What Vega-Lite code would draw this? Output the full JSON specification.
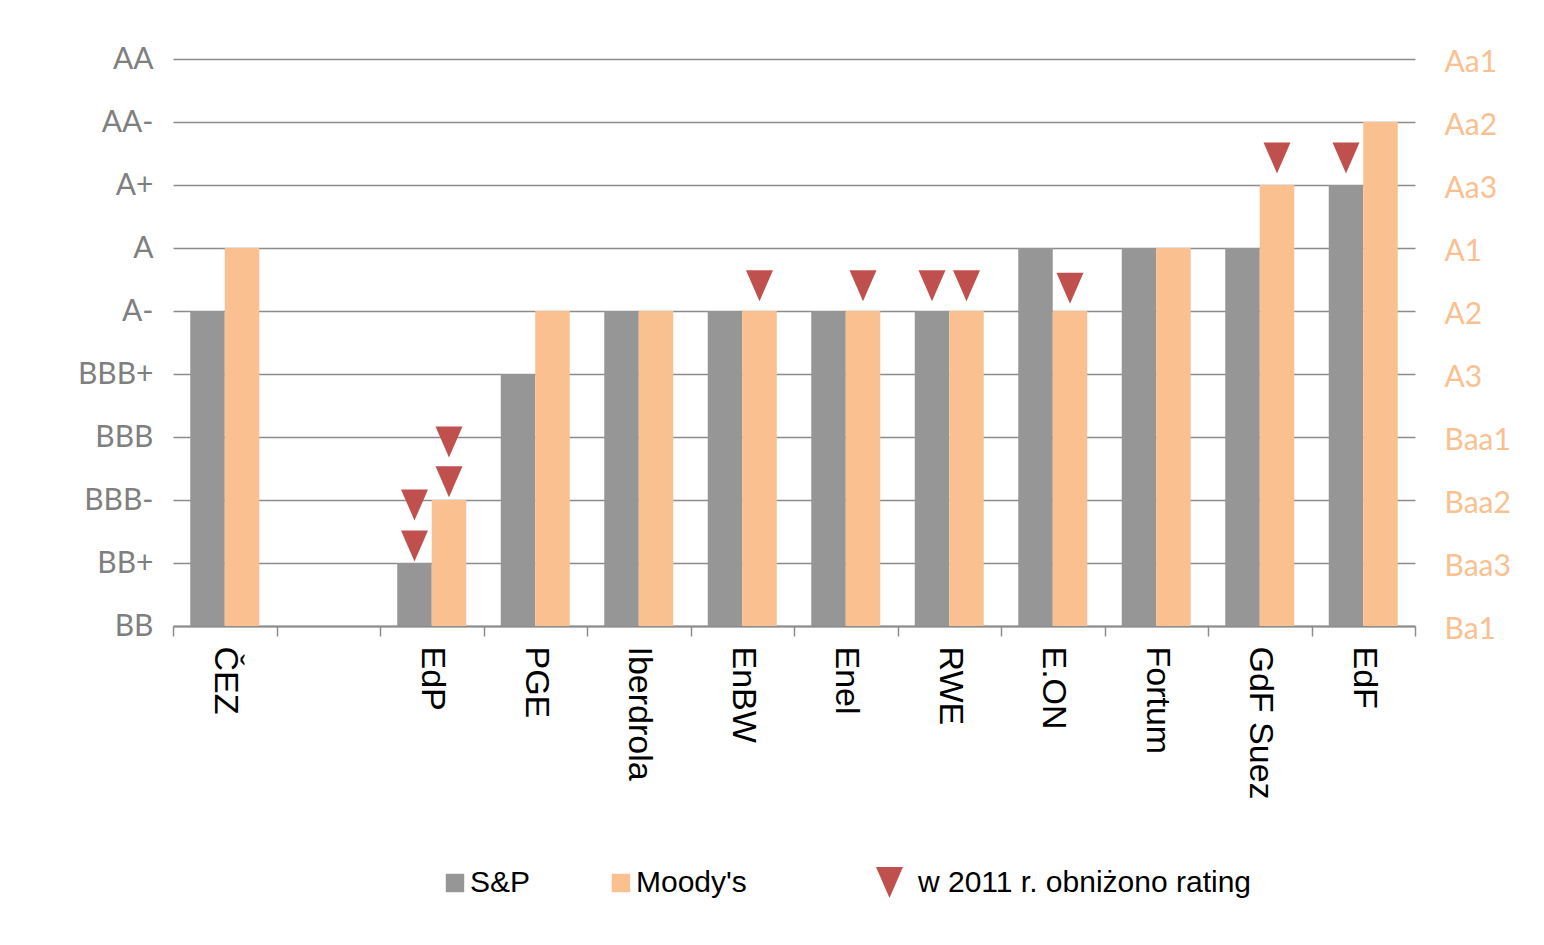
{
  "$schema": "https://vega.github.io/schema/vega-lite/v6.json",
  "width": 1242,
  "height": 567,
  "autosize": {"type": "none"},
  "padding": {"left": 173, "top": 59, "right": 129, "bottom": 319},
  "background": "white",
  "config": {"view": {"stroke": null}},
  "datasets": {
    "bars": [
      {"company": "ČEZ", "series": "S&P", "value": 5},
      {"company": "ČEZ", "series": "Moody's", "value": 6},
      {"company": "EdP", "series": "S&P", "value": 1},
      {"company": "EdP", "series": "Moody's", "value": 2},
      {"company": "PGE", "series": "S&P", "value": 4},
      {"company": "PGE", "series": "Moody's", "value": 5},
      {"company": "Iberdrola", "series": "S&P", "value": 5},
      {"company": "Iberdrola", "series": "Moody's", "value": 5},
      {"company": "EnBW", "series": "S&P", "value": 5},
      {"company": "EnBW", "series": "Moody's", "value": 5},
      {"company": "Enel", "series": "S&P", "value": 5},
      {"company": "Enel", "series": "Moody's", "value": 5},
      {"company": "RWE", "series": "S&P", "value": 5},
      {"company": "RWE", "series": "Moody's", "value": 5},
      {"company": "E.ON", "series": "S&P", "value": 6},
      {"company": "E.ON", "series": "Moody's", "value": 5},
      {"company": "Fortum", "series": "S&P", "value": 6},
      {"company": "Fortum", "series": "Moody's", "value": 6},
      {"company": "GdF Suez", "series": "S&P", "value": 6},
      {"company": "GdF Suez", "series": "Moody's", "value": 7},
      {"company": "EdF", "series": "S&P", "value": 7},
      {"company": "EdF", "series": "Moody's", "value": 8}
    ],
    "downgrades": [
      {"company": "EdP", "series": "S&P", "pos": 1.92, "kind": "w 2011 r. obniżono rating"},
      {"company": "EdP", "series": "S&P", "pos": 1.27, "kind": "w 2011 r. obniżono rating"},
      {"company": "EdP", "series": "Moody's", "pos": 2.92, "kind": "w 2011 r. obniżono rating"},
      {"company": "EdP", "series": "Moody's", "pos": 2.29, "kind": "w 2011 r. obniżono rating"},
      {"company": "EnBW", "series": "Moody's", "pos": 5.4, "kind": "w 2011 r. obniżono rating"},
      {"company": "Enel", "series": "Moody's", "pos": 5.4, "kind": "w 2011 r. obniżono rating"},
      {"company": "RWE", "series": "S&P", "pos": 5.4, "kind": "w 2011 r. obniżono rating"},
      {"company": "RWE", "series": "Moody's", "pos": 5.4, "kind": "w 2011 r. obniżono rating"},
      {"company": "E.ON", "series": "Moody's", "pos": 5.36, "kind": "w 2011 r. obniżono rating"},
      {"company": "GdF Suez", "series": "Moody's", "pos": 7.43, "kind": "w 2011 r. obniżono rating"},
      {"company": "EdF", "series": "S&P", "pos": 7.43, "kind": "w 2011 r. obniżono rating"}
    ]
  },
  "layer": [
    {
      "data": {"name": "bars"},
      "mark": {"type": "bar"},
      "encoding": {
        "x": {
          "field": "company",
          "type": "nominal",
          "scale": {
            "domain": ["ČEZ", " ", "EdP", "PGE", "Iberdrola", "EnBW", "Enel", "RWE", "E.ON", "Fortum", "GdF Suez", "EdF"],
            "paddingInner": 0,
            "paddingOuter": 0
          },
          "axis": {
            "title": null,
            "tickBand": "extent",
            "labelAngle": 90,
            "labelAlign": "left",
            "labelBaseline": "middle",
            "labelFont": "Liberation Sans",
            "labelFontSize": 34,
            "labelColor": "#000000",
            "labelPadding": 10,
            "labelLimit": 400,
            "tickSize": 10,
            "tickColor": "#8C8C8C",
            "tickWidth": 1.5,
            "domainColor": "#8C8C8C",
            "domainWidth": 2,
            "grid": false
          }
        },
        "xOffset": {
          "field": "series",
          "type": "nominal",
          "scale": {"domain": ["S&P", "Moody's"], "paddingInner": 0, "paddingOuter": 0.5}
        },
        "y": {
          "field": "value",
          "type": "quantitative",
          "scale": {"domain": [0, 9], "nice": false},
          "axis": {
            "orient": "left",
            "title": null,
            "values": [0, 1, 2, 3, 4, 5, 6, 7, 8, 9],
            "labelExpr": "['BB','BB+','BBB-','BBB','BBB+','A-','A','A+','AA-','AA'][datum.value]",
            "domain": false,
            "ticks": false,
            "grid": true,
            "gridColor": "#8C8C8C",
            "gridWidth": 1.5,
            "labelFont": "Lato",
            "labelFontSize": 30,
            "labelColor": "#7F7F7F",
            "labelPadding": 20,
            "labelFlush": false,
            "labelOverlap": false,
            "labelBound": false
          }
        },
        "color": {
          "field": "series",
          "type": "nominal",
          "scale": {"domain": ["S&P", "Moody's"], "range": ["#969696", "#FAC090"]},
          "legend": {
            "title": null,
            "orient": "none",
            "legendX": 267,
            "legendY": 809,
            "direction": "horizontal",
            "columns": 2,
            "columnPadding": 75,
            "symbolType": "square",
            "symbolSize": 340,
            "symbolStrokeWidth": 0,
            "labelOffset": 0,
            "labelFont": "Liberation Sans",
            "labelFontSize": 30,
            "labelColor": "#000000",
            "labelLimit": 400
          }
        }
      }
    },
    {
      "data": {"name": "downgrades"},
      "mark": {"type": "point", "filled": true, "opacity": 1, "size": 961, "color": "#C0504D"},
      "encoding": {
        "x": {"field": "company", "type": "nominal"},
        "xOffset": {"field": "series", "type": "nominal"},
        "y": {
          "field": "pos",
          "type": "quantitative",
          "axis": {
            "orient": "right",
            "title": null,
            "values": [0, 1, 2, 3, 4, 5, 6, 7, 8, 9],
            "labelExpr": "['Ba1','Baa3','Baa2','Baa1','A3','A2','A1','Aa3','Aa2','Aa1'][datum.value]",
            "domain": false,
            "ticks": false,
            "grid": false,
            "labelFont": "Lato",
            "labelFontSize": 30,
            "labelColor": "#FAC090",
            "labelPadding": 29,
            "labelOffset": 3,
            "labelFlush": false,
            "labelOverlap": false,
            "labelBound": false
          }
        },
        "shape": {
          "field": "kind",
          "type": "nominal",
          "scale": {"domain": ["w 2011 r. obniżono rating"], "range": ["M-0.87,-1L0.87,-1L0,1Z"]},
          "legend": {
            "title": null,
            "orient": "none",
            "legendX": 701,
            "legendY": 808,
            "symbolSize": 961,
            "symbolFillColor": "#C0504D",
            "symbolStrokeWidth": 0,
            "labelOffset": 13,
            "labelFont": "Liberation Sans",
            "labelFontSize": 30,
            "labelColor": "#000000",
            "labelLimit": 600
          }
        }
      }
    }
  ],
  "resolve": {"axis": {"y": "independent"}}
}
